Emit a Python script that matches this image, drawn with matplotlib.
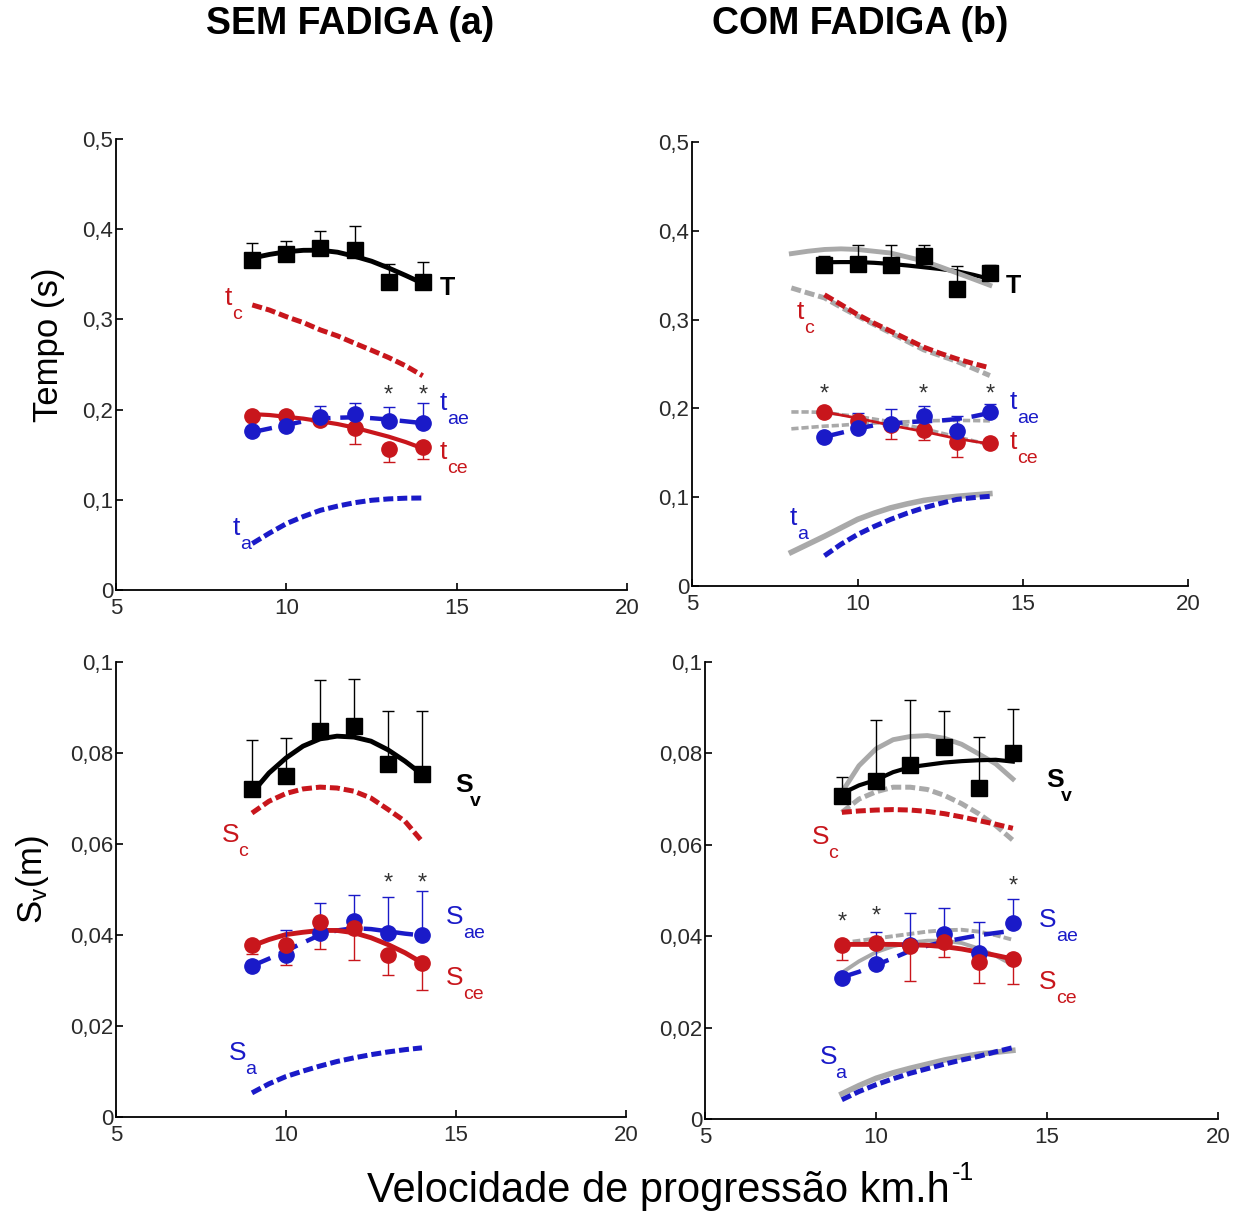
import numpy as np
import matplotlib
matplotlib.use("Agg")
import matplotlib.pyplot as plt
from matplotlib.ticker import FuncFormatter

plt.rcParams['font.family'] = ['Liberation Sans', 'DejaVu Sans']
plt.rcParams['mathtext.fontset'] = 'custom'
plt.rcParams['mathtext.rm'] = 'Liberation Sans'

RED = '#c8161c'
BLUE = '#1a1ac8'
GRAY = '#a9a9a9'

# speeds (km/h) for the measured points and for the fitted curves
x_pts = [9, 10, 11, 12, 13, 14]
x_fit = [9, 9.5, 10, 10.5, 11, 11.5, 12, 12.5, 13, 13.5, 14]
x_fit8 = [8, 8.5, 9, 9.5, 10, 10.5, 11, 11.5, 12, 12.5, 13, 13.5, 14]

# ---- SEM FADIGA, tempo ----
T_sem = [0.366, 0.373, 0.379, 0.377, 0.342, 0.341]
T_sem_err = [0.019, 0.014, 0.019, 0.026, 0.019, 0.023]
tae_sem = [0.176, 0.182, 0.1915, 0.195, 0.187, 0.185]
tae_sem_err = [0.004, 0.004, 0.012, 0.012, 0.0155, 0.022]
tce_sem = [0.193, 0.193, 0.188, 0.180, 0.1565, 0.158]
tce_sem_err = [0.003, 0.003, 0.005, 0.018, 0.0147, 0.0133]
T_sem_fit = [0.368, 0.372, 0.375, 0.3766, 0.3767, 0.3745, 0.370, 0.3645, 0.357, 0.3487, 0.340]
tc_sem = [0.316, 0.3104, 0.303, 0.2964, 0.2883, 0.2817, 0.2736, 0.2658, 0.2577, 0.2485, 0.2375]
tae_sem_fit = [0.175, 0.179, 0.183, 0.187, 0.190, 0.191, 0.1915, 0.1905, 0.189, 0.187, 0.185]
tce_sem_fit = [0.195, 0.194, 0.192, 0.190, 0.187, 0.184, 0.180, 0.175, 0.170, 0.164, 0.157]
ta_sem = [0.0515, 0.063, 0.0736, 0.0815, 0.0884, 0.093, 0.0968, 0.0995, 0.101, 0.1018, 0.102]
stars_t_sem_x = [13, 14]
stars_t_sem_y = [0.216, 0.216]

# ---- COM FADIGA, tempo ----
T_com = [0.361, 0.363, 0.362, 0.372, 0.334, 0.3526]
T_com_err = [0.011, 0.0207, 0.0217, 0.0117, 0.026, 0.0094]
tae_com = [0.168, 0.178, 0.1824, 0.1914, 0.1745, 0.196]
tae_com_err = [0.003, 0.017, 0.017, 0.0116, 0.0175, 0.009]
tce_com = [0.196, 0.186, 0.181, 0.1757, 0.162, 0.161]
tce_com_err = [0.002, 0.003, 0.015, 0.011, 0.0165, 0.002]
T_com_fit = [0.3646, 0.3648, 0.3648, 0.364, 0.3627, 0.361, 0.359, 0.357, 0.3545, 0.3505, 0.3458]
tc_com = [0.328, 0.317, 0.3057, 0.296, 0.287, 0.278, 0.269, 0.262, 0.2558, 0.2505, 0.2457]
tae_com_fit = [0.168, 0.1725, 0.177, 0.181, 0.183, 0.1845, 0.1855, 0.1863, 0.188, 0.191, 0.195]
tce_com_fit = [0.196, 0.1925, 0.189, 0.185, 0.181, 0.1775, 0.174, 0.170, 0.166, 0.163, 0.160]
ta_com = [0.034, 0.047, 0.058, 0.067, 0.075, 0.082, 0.088, 0.093, 0.0975, 0.0995, 0.101]
# grey reference curves (8 - 14 km/h)
T_gray = [0.3743, 0.377, 0.379, 0.3797, 0.379, 0.377, 0.375, 0.3705, 0.366, 0.3595, 0.3526, 0.3457, 0.3387]
tc_gray = [0.3357, 0.330, 0.3245, 0.314, 0.304, 0.2945, 0.285, 0.2755, 0.266, 0.2595, 0.253, 0.245, 0.237]
tae_gray = [0.177, 0.1785, 0.180, 0.181, 0.1825, 0.1835, 0.1845, 0.185, 0.186, 0.1863, 0.1865, 0.1863, 0.186]
tce_gray = [0.196, 0.196, 0.1955, 0.193, 0.191, 0.188, 0.185, 0.181, 0.177, 0.1725, 0.168, 0.1635, 0.159]
ta_gray = [0.038, 0.047, 0.056, 0.0655, 0.075, 0.082, 0.088, 0.0925, 0.0964, 0.099, 0.101, 0.1025, 0.104]
stars_t_com_x = [9, 12, 14]
stars_t_com_y = [0.2157, 0.2157, 0.2157]

# ---- SEM FADIGA, distancia ----
Sv_sem = [0.072, 0.0749, 0.0848, 0.0859, 0.0775, 0.0753]
Sv_sem_err = [0.0108, 0.0083, 0.0112, 0.0104, 0.0117, 0.014]
Sae_sem = [0.0332, 0.0357, 0.0405, 0.043, 0.0405, 0.0399]
Sae_sem_err = [0.001, 0.0053, 0.0066, 0.0057, 0.0078, 0.0097]
Sce_sem = [0.0379, 0.0377, 0.0428, 0.0416, 0.0357, 0.0339]
Sce_sem_err = [0.002, 0.0044, 0.0058, 0.0071, 0.0044, 0.0059]
Sv_sem_fit = [0.0712, 0.0756, 0.0789, 0.0815, 0.0831, 0.0837, 0.0835, 0.0826, 0.0807, 0.0782, 0.0753]
Sc_sem = [0.0668, 0.0694, 0.0711, 0.0721, 0.0725, 0.0723, 0.0716, 0.0701, 0.0676, 0.065, 0.0606]
Sae_sem_fit = [0.0332, 0.0348, 0.0365, 0.0383, 0.040, 0.041, 0.0415, 0.0413, 0.0408, 0.0403, 0.0399]
Sce_sem_fit = [0.0376, 0.039, 0.0401, 0.0406, 0.041, 0.041, 0.0405, 0.0394, 0.0379, 0.0361, 0.0339]
Sa_sem = [0.0053, 0.0073, 0.0089, 0.0101, 0.0112, 0.0122, 0.013, 0.0137, 0.0143, 0.0148, 0.0152]
stars_s_sem_x = [13, 14]
stars_s_sem_y = [0.0513, 0.0513]

# ---- COM FADIGA, distancia ----
Sv_com = [0.0706, 0.0739, 0.0775, 0.0813, 0.0724, 0.080]
Sv_com_err = [0.0043, 0.0134, 0.0141, 0.0079, 0.0112, 0.0098]
Sae_com = [0.0309, 0.0339, 0.038, 0.0405, 0.0363, 0.0429]
Sae_com_err = [0.0005, 0.0071, 0.007, 0.0057, 0.0068, 0.0052]
Sce_com = [0.0381, 0.0385, 0.0379, 0.0387, 0.0344, 0.035]
Sce_com_err = [0.0033, 0.001, 0.0077, 0.0032, 0.0046, 0.0054]
Sv_com_fit = [0.0712, 0.073, 0.0742, 0.0759, 0.077, 0.0775, 0.078, 0.0783, 0.0785, 0.0786, 0.0782]
Sc_com = [0.0671, 0.0674, 0.0676, 0.0677, 0.0676, 0.0673, 0.0668, 0.0661, 0.0653, 0.0645, 0.0636]
Sae_com_fit = [0.031, 0.0322, 0.0337, 0.0352, 0.0368, 0.0379, 0.0388, 0.0395, 0.0402, 0.0407, 0.0412]
Sce_com_fit = [0.0382, 0.0382, 0.0382, 0.0382, 0.0381, 0.038, 0.0377, 0.0372, 0.0365, 0.0358, 0.035]
Sa_com = [0.0042, 0.006, 0.0075, 0.0088, 0.010, 0.011, 0.012, 0.0129, 0.0137, 0.0147, 0.0156]
Sv_gray = [0.0715, 0.0773, 0.081, 0.083, 0.0837, 0.0839, 0.0833, 0.082, 0.0799, 0.0777, 0.0744]
Sc_gray = [0.0671, 0.070, 0.0716, 0.0726, 0.0726, 0.0721, 0.0708, 0.069, 0.0668, 0.0642, 0.061]
Sup_gray = [0.0385, 0.039, 0.0395, 0.040, 0.0405, 0.041, 0.0413, 0.0414, 0.041, 0.0402, 0.0392]
Slow_gray = [0.032, 0.0345, 0.0365, 0.0378, 0.0386, 0.039, 0.039, 0.0385, 0.0373, 0.0357, 0.0337]
Sa_gray = [0.0055, 0.0073, 0.0089, 0.0101, 0.0111, 0.012, 0.0129, 0.0136, 0.0142, 0.0146, 0.015]
stars_s_com_x = [9, 10, 14]
stars_s_com_y = [0.0429, 0.0444, 0.0508]

xticks = [5, 10, 15, 20]
t_ticks = [0, 0.1, 0.2, 0.3, 0.4, 0.5]
s_ticks = [0, 0.02, 0.04, 0.06, 0.08, 0.1]


def comma(v, pos):
    return ('%g' % v).replace('.', ',')


def setup_axes(ax, yticks):
    ax.set_xlim(5, 20)
    ax.set_ylim(yticks[0], yticks[-1])
    ax.set_xticks(xticks)
    ax.set_yticks(yticks)
    ax.yaxis.set_major_formatter(FuncFormatter(comma))
    for s in ['top', 'right']:
        ax.spines[s].set_visible(False)
    for s in ['left', 'bottom']:
        ax.spines[s].set_linewidth(1.3)
    ax.tick_params(direction='in', length=5, width=1.2, labelsize=16,
                   labelcolor='#2a2a2a')
    ax.tick_params(axis='x', pad=6)
    ax.tick_params(axis='y', pad=2)
    ax.patch.set_alpha(0)


def label(ax, x, y, main, sub, color, bold=False, size=19, subsize=14, dx=3, dy=-12):
    w = 'bold' if bold else 'normal'
    ax.text(x, y, main, color=color, fontsize=size, fontweight=w, ha='center', va='center')
    if sub:
        ax.annotate(sub, (x, y), xytext=(dx, dy), textcoords='offset points', color=color,
                    fontsize=subsize, fontweight=w, ha='left', va='center')


def stars(ax, xs, ys):
    for x, y in zip(xs, ys):
        ax.text(x, y, '*', fontsize=17, color='#333333', ha='center', va='center')


def points(ax, y, err, color, marker, up=True, ms=11):
    yerr = [np.zeros(len(err)), err] if up else [err, np.zeros(len(err))]
    ax.errorbar(x_pts, y, yerr=yerr, fmt='none', ecolor=color, elinewidth=1, capsize=4,
                capthick=1, zorder=4)
    ax.plot(x_pts, y, linestyle='none', marker=marker, ms=ms, color=color, mec=color, zorder=6)


fig = plt.figure(figsize=(12.47, 12.14), dpi=100)
ax_tl = fig.add_axes([0.093, 0.514, 0.410, 0.3715])
ax_tr = fig.add_axes([0.555, 0.5173, 0.398, 0.3657])
ax_bl = fig.add_axes([0.093, 0.0799, 0.409, 0.3748])
ax_br = fig.add_axes([0.5654, 0.0783, 0.4114, 0.3764])

# ---------- top left ----------
ax = ax_tl
setup_axes(ax, t_ticks)
ax.plot(x_fit, tc_sem, color=RED, lw=3.6, dashes=(2.0, 0.8), zorder=3)
ax.plot(x_fit, ta_sem, color=BLUE, lw=3.6, dashes=(2.0, 0.8), zorder=3)
ax.plot(x_fit, T_sem_fit, color='black', lw=3.5, zorder=3)
ax.plot(x_fit, tae_sem_fit, color=BLUE, lw=3.2, dashes=(4.5, 2.2), zorder=3)
ax.plot(x_fit, tce_sem_fit, color=RED, lw=3.0, zorder=3)
points(ax, T_sem, T_sem_err, 'black', 's')
points(ax, tce_sem, tce_sem_err, RED, 'o', up=False)
points(ax, tae_sem, tae_sem_err, BLUE, 'o')
stars(ax, stars_t_sem_x, stars_t_sem_y)
label(ax, 14.72, 0.335, 'T', '', 'black', bold=True, size=18)
label(ax, 8.29, 0.324, 't', 'c', RED)
label(ax, 14.6, 0.207, 't', 'ae', BLUE)
label(ax, 14.6, 0.153, 't', 'ce', RED)
label(ax, 8.52, 0.069, 't', 'a', BLUE)

# ---------- top right ----------
ax = ax_tr
setup_axes(ax, t_ticks)
ax.plot(x_fit8, ta_gray, color=GRAY, lw=4, zorder=2)
ax.plot(x_fit8, tc_gray, color=GRAY, lw=3.6, dashes=(2.0, 0.8), zorder=2)
ax.plot(x_fit8, tae_gray, color=GRAY, lw=2.6, dashes=(2.0, 0.8), zorder=2)
ax.plot(x_fit8, tce_gray, color=GRAY, lw=2.6, dashes=(2.0, 0.8), zorder=2)
ax.plot(x_fit, tc_com, color=RED, lw=3.6, dashes=(2.0, 0.8), zorder=3)
ax.plot(x_fit, ta_com, color=BLUE, lw=3.6, dashes=(2.0, 0.8), zorder=3)
ax.plot(x_fit, T_com_fit, color='black', lw=3.0, zorder=3)
ax.plot(x_fit8, T_gray, color=GRAY, lw=3.5, zorder=3)
ax.plot(x_fit, tae_com_fit, color=BLUE, lw=3.2, dashes=(4.5, 2.2), zorder=3)
ax.plot(x_fit, tce_com_fit, color=RED, lw=2.0, zorder=3)
points(ax, T_com, T_com_err, 'black', 's')
points(ax, tce_com, tce_com_err, RED, 'o', up=False)
points(ax, tae_com, tae_com_err, BLUE, 'o')
stars(ax, stars_t_com_x, stars_t_com_y)
label(ax, 14.7, 0.338, 'T', '', 'black', bold=True, size=18)
label(ax, 8.27, 0.309, 't', 'c', RED)
label(ax, 14.7, 0.207, 't', 'ae', BLUE)
label(ax, 14.7, 0.162, 't', 'ce', RED)
label(ax, 8.05, 0.0766, 't', 'a', BLUE)

# ---------- bottom left ----------
ax = ax_bl
setup_axes(ax, s_ticks)
ax.plot(x_fit, Sc_sem, color=RED, lw=3.6, dashes=(2.0, 0.8), zorder=3)
ax.plot(x_fit, Sa_sem, color=BLUE, lw=3.6, dashes=(2.0, 0.8), zorder=3)
ax.plot(x_fit, Sv_sem_fit, color='black', lw=3.5, zorder=3)
ax.plot(x_fit, Sae_sem_fit, color=BLUE, lw=3.2, dashes=(4.5, 2.2), zorder=3)
ax.plot(x_fit, Sce_sem_fit, color=RED, lw=3.5, zorder=3)
points(ax, Sv_sem, Sv_sem_err, 'black', 's')
points(ax, Sae_sem, Sae_sem_err, BLUE, 'o')
points(ax, Sce_sem, Sce_sem_err, RED, 'o', up=False)
stars(ax, stars_s_sem_x, stars_s_sem_y)
label(ax, 15.25, 0.073, 'S', 'v', 'black', bold=True, size=19, dx=4, dy=-12)
label(ax, 8.38, 0.062, 'S', 'c', RED, dx=5)
label(ax, 14.97, 0.044, 'S', 'ae', BLUE, dx=6)
label(ax, 14.97, 0.0305, 'S', 'ce', RED, dx=6)
label(ax, 8.59, 0.014, 'S', 'a', BLUE, dx=5)

# ---------- bottom right ----------
ax = ax_br
setup_axes(ax, s_ticks)
ax.plot(x_fit, Sa_gray, color=GRAY, lw=4, zorder=2)
ax.plot(x_fit, Sc_gray, color=GRAY, lw=3.6, dashes=(2.0, 0.8), zorder=2)
ax.plot(x_fit, Sup_gray, color=GRAY, lw=2.8, dashes=(2.0, 0.8), zorder=2)
ax.plot(x_fit, Slow_gray, color=GRAY, lw=2.8, zorder=2)
ax.plot(x_fit, Sc_com, color=RED, lw=3.6, dashes=(2.0, 0.8), zorder=3)
ax.plot(x_fit, Sa_com, color=BLUE, lw=3.6, dashes=(2.0, 0.8), zorder=3)
ax.plot(x_fit, Sv_gray, color=GRAY, lw=3.5, zorder=3)
ax.plot(x_fit, Sv_com_fit, color='black', lw=3.0, zorder=3)
ax.plot(x_fit, Sae_com_fit, color=BLUE, lw=3.2, dashes=(4.5, 2.2), zorder=3)
ax.plot(x_fit, Sce_com_fit, color=RED, lw=3.5, zorder=3)
points(ax, Sv_com, Sv_com_err, 'black', 's')
points(ax, Sae_com, Sae_com_err, BLUE, 'o')
points(ax, Sce_com, Sce_com_err, RED, 'o', up=False)
stars(ax, stars_s_com_x, stars_s_com_y)
label(ax, 15.23, 0.0742, 'S', 'v', 'black', bold=True, size=19, dx=4, dy=-12)
label(ax, 8.39, 0.0617, 'S', 'c', RED, dx=5)
label(ax, 15.03, 0.0435, 'S', 'ae', BLUE, dx=6)
label(ax, 15.03, 0.030, 'S', 'ce', RED, dx=6)
label(ax, 8.6, 0.0136, 'S', 'a', BLUE, dx=5)

# titles and axis labels
fig.text(0.2807, 0.980, 'SEM FADIGA (a)', fontsize=27, fontweight='bold', ha='center', va='center')
fig.text(0.6897, 0.980, 'COM FADIGA (b)', fontsize=27, fontweight='bold', ha='center', va='center')
fig.text(0.0385, 0.716, 'Tempo (s)', fontsize=25, rotation=90, ha='center', va='center')
fig.text(0.0257, 0.275, r'$\mathregular{S_v}$(m)', fontsize=25, rotation=90, ha='center', va='center')
fig.text(0.7618, 0.0095, 'Velocidade de progressão km.h', fontsize=30,
         ha='right', va='baseline')
fig.text(0.7634, 0.028, '-1', fontsize=18, ha='left', va='baseline')

fig.savefig('out.png', dpi=100)
